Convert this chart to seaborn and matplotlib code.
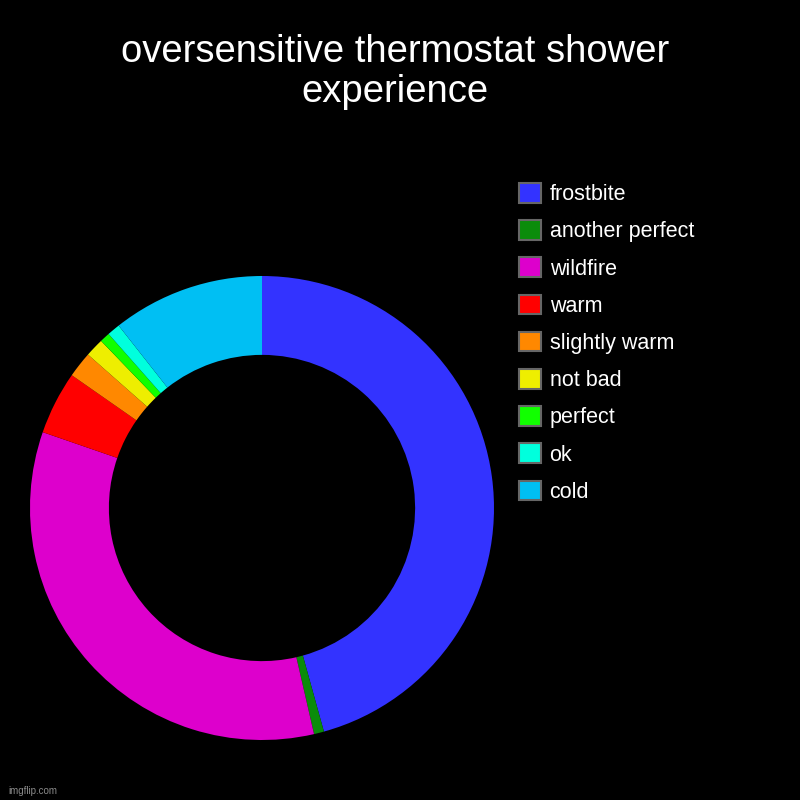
import matplotlib
matplotlib.use("Agg")
import matplotlib.pyplot as plt
import seaborn as sns

labels = ["frostbite", "another perfect", "wildfire", "warm", "slightly warm",
          "not bad", "perfect", "ok", "cold"]
values = [45.7, 0.7, 33.9, 4.4, 1.8, 1.3, 0.7, 0.9, 10.6]
colors = ["#3333ff", "#0a8c0a", "#dd00cc", "#ff0000", "#ff8800",
          "#eeee00", "#11ff00", "#00ffdd", "#00bff3"]
title = "oversensitive thermostat shower\nexperience"

sns.set_theme(style="white")
plt.rcParams['font.family'] = ['Liberation Sans', 'DejaVu Sans']

fig = plt.figure(figsize=(8, 8), dpi=100, facecolor="black")
ax = fig.add_axes([30/800, 60/800, 464/800, 464/800])
ax.set_facecolor("black")
palette = sns.color_palette(colors)
wedges, _ = ax.pie(values, labels=None, colors=palette, startangle=90,
                   counterclock=False, radius=1.0,
                   wedgeprops=dict(width=0.34, linewidth=0))
ax.set_xlim(-1, 1)
ax.set_ylim(-1, 1)
ax.set_aspect("equal")
ax.axis("off")

fig.text(395/800, 1 - 72/800, title, ha="center", va="center",
         color="white", fontsize=27.5, linespacing=1.13)

leg = fig.legend(wedges, labels, loc="upper left",
                 bbox_to_anchor=(519/800, 1 - 183/800),
                 frameon=False, fontsize=15.5, labelcolor="white",
                 handlelength=1.02, handleheight=1.02, labelspacing=0.70,
                 handletextpad=0.4, borderpad=0, borderaxespad=0)
for h in leg.legend_handles:
    h.set_edgecolor("#666666")
    h.set_linewidth(1.5)

fig.text(8/800, 1 - 791/800, "imgflip.com", ha="left", va="center",
         color="#8a8a8a", fontsize=7)

fig.savefig("out.png", dpi=100, facecolor="black")
